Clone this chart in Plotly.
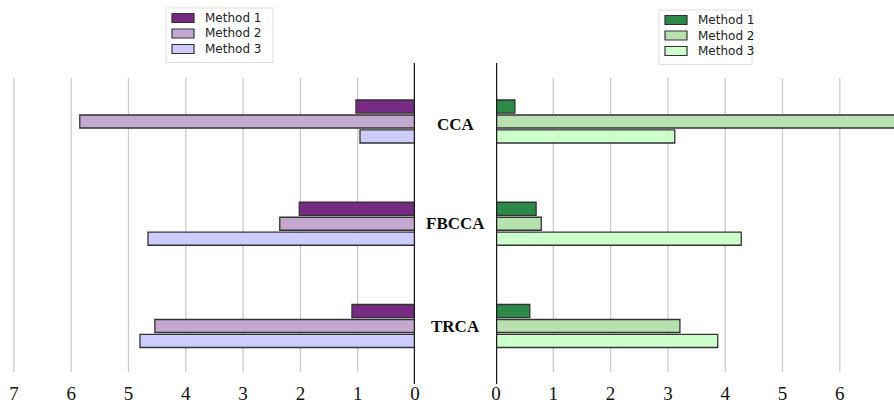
import plotly.graph_objects as go

# Data
categories = ["CCA", "FBCCA", "TRCA"]
methods = ["Method 1", "Method 2", "Method 3"]
left_values = {
    "Method 1": [1.03, 2.02, 1.10],
    "Method 2": [5.85, 2.36, 4.54],
    "Method 3": [0.96, 4.66, 4.80],
}
right_values = {
    "Method 1": [0.33, 0.70, 0.59],
    "Method 2": [7.00, 0.79, 3.21],
    "Method 3": [3.12, 4.28, 3.87],
}
left_colors = ["#762a83", "#c3a8cf", "#ccccff"]
right_colors = ["#2b8a47", "#b7e2b0", "#ccffcc"]
ticks = [0, 1, 2, 3, 4, 5, 6, 7]

W, H = 894, 407
left_dom = [0, 415 / W]
right_dom = [496 / W, 1]
px_per_unit = 57.3
left_max = 415 / px_per_unit
right_max = (W - 496) / px_per_unit

# plot area rows (pixels from the top)
plot_top, plot_bottom = 63, 380
cat_center0, cat_pitch = 121.5, 102.25
y_range = [(plot_bottom - cat_center0) / cat_pitch, (plot_top - cat_center0) / cat_pitch]

fig = go.Figure()

for i, m in enumerate(methods):
    fig.add_trace(go.Bar(
        y=categories, x=left_values[m], orientation="h", name=m,
        marker=dict(color=left_colors[i], line=dict(color="#333333", width=1.3)),
        xaxis="x", yaxis="y", showlegend=False,
    ))
for i, m in enumerate(methods):
    fig.add_trace(go.Bar(
        y=categories, x=right_values[m], orientation="h", name=m,
        marker=dict(color=right_colors[i], line=dict(color="#333333", width=1.3)),
        xaxis="x2", yaxis="y", showlegend=False,
    ))

# vertical grid lines and the two black zero lines
grid_y0, grid_y1 = 1 - 372 / H, 1 - 78 / H
zero_y0, zero_y1 = 1 - 384 / H, 1 - 63 / H
shapes = []
for xr in ("x", "x2"):
    for v in ticks[1:]:
        shapes.append(dict(type="line", xref=xr, yref="paper", x0=v, x1=v,
                           y0=grid_y0, y1=grid_y1, layer="below",
                           line=dict(color="#cccccc", width=1.3)))
    shapes.append(dict(type="line", xref=xr, yref="paper", x0=0, x1=0,
                       y0=zero_y0, y1=zero_y1, layer="above",
                       line=dict(color="#1a1a1a", width=2.5)))

# category names between the panels
label_shift = [-3, 0, 0]
annotations = [
    dict(text=f"<b>{c}</b>", x=(415 + 496) / 2 / W, xref="paper", y=c, yref="y",
         yshift=s, showarrow=False,
         font=dict(family="Liberation Serif", size=17, color="#111"),
         xanchor="center", yanchor="middle")
    for c, s in zip(categories, label_shift)
]


# legend boxes: frame, swatch and label for each method
def add_legend(x_left, y_top, width, colors):
    row = 15.5
    box_h = 3 * row + 8
    shapes.append(dict(type="rect", xref="paper", yref="paper",
                       x0=x_left / W, x1=(x_left + width) / W,
                       y0=1 - (y_top + box_h) / H, y1=1 - y_top / H,
                       line=dict(color="#dddddd", width=1), fillcolor="white"))
    for i, m in enumerate(methods):
        yc = y_top + 10 + i * row
        shapes.append(dict(type="rect", xref="paper", yref="paper",
                           x0=(x_left + 6) / W, x1=(x_left + 28) / W,
                           y0=1 - (yc + 4.5) / H, y1=1 - (yc - 4.5) / H,
                           line=dict(color="#333333", width=1.2),
                           fillcolor=colors[i]))
        annotations.append(dict(text=m, xref="paper", yref="paper",
                                x=(x_left + 37) / W, y=1 - yc / H,
                                xanchor="left", yanchor="middle", showarrow=False,
                                font=dict(family="DejaVu Sans", size=12, color="#222")))


add_legend(166, 8, 107, left_colors)
add_legend(659, 10, 93, right_colors)

tick_font = dict(family="Liberation Serif", size=19, color="#111")

fig.update_layout(
    width=W, height=H,
    margin=dict(l=0, r=0, t=0, b=0, autoexpand=False),
    paper_bgcolor="white", plot_bgcolor="white",
    showlegend=False,
    barmode="group", bargap=0.56, bargroupgap=0.13,
    shapes=shapes, annotations=annotations,
    xaxis=dict(domain=left_dom, range=[left_max, 0], tickvals=ticks,
               showgrid=False, zeroline=False, showline=False, ticks="",
               tickfont=tick_font, anchor="y", automargin=False),
    xaxis2=dict(domain=right_dom, range=[0, right_max], tickvals=ticks,
                showgrid=False, zeroline=False, showline=False, ticks="",
                tickfont=tick_font, anchor="y", automargin=False),
    yaxis=dict(domain=[1 - plot_bottom / H, 1 - plot_top / H], type="category",
               categoryorder="array", categoryarray=categories,
               range=y_range, showticklabels=False,
               showgrid=False, zeroline=False, showline=False, ticks="",
               automargin=False),
)

fig.write_html("out.html")
